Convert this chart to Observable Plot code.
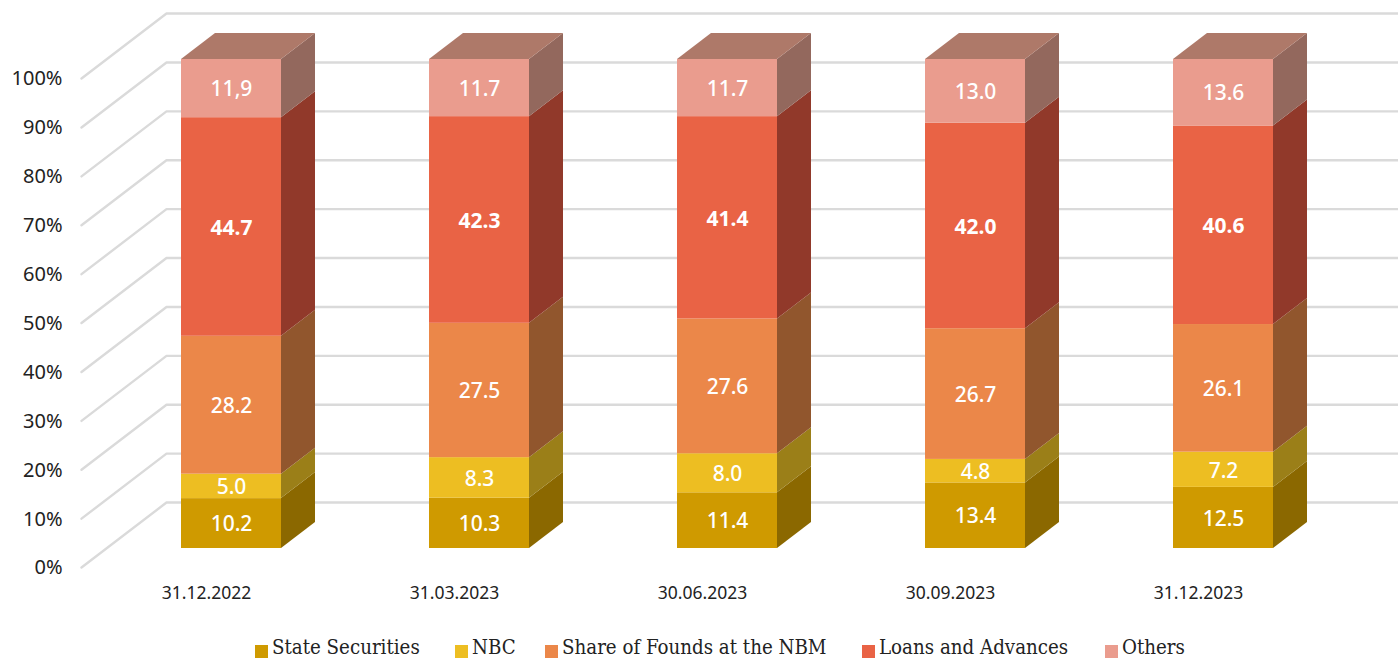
<!DOCTYPE html>
<html>
<head>
<meta charset="utf-8">
<script src="https://cdn.jsdelivr.net/npm/d3@7"></script>
<script src="https://cdn.jsdelivr.net/npm/@observablehq/plot@0.6"></script>
<style>
html,body{margin:0;padding:0;background:#fff;overflow:hidden}
#legend{position:relative;height:22px;font-family:"DejaVu Serif Condensed","DejaVu Serif",serif;font-stretch:condensed;font-size:20.3px;line-height:22px;color:#222;white-space:nowrap}
#legend .item{position:absolute;top:0;display:flex;align-items:flex-start}
#legend .sw{width:13px;height:13px;margin-top:9px;margin-right:4px}
</style>
</head>
<body>
<div id="chart"></div>
<div id="legend"></div>
<script>
const periods = ["31.12.2022","31.03.2023","30.06.2023","30.09.2023","31.12.2023"];
const seriesNames = ["State Securities","NBC","Share of Founds at the NBM","Loans and Advances","Others"];
const stateSecurities = [10.2,10.3,11.4,13.4,12.5];
const nbc = [5.0,8.3,8.0,4.8,7.2];
const shareOfFounds = [28.2,27.5,27.6,26.7,26.1];
const loansAdvances = [44.7,42.3,41.4,42.0,40.6];
const others = [11.9,11.7,11.7,13.0,13.6];
const othersLabels = ["11,9","11.7","11.7","13.0","13.6"];
const frontColors = ["#CF9A00","#EDBE22","#EB8749","#E96345","#EA9C8E"];
const sideColors = ["#8B6800","#9B7F18","#91562D","#91392A","#93685D"];
const topColor = "#AE7969";
const tickValues = [0,10,20,30,40,50,60,70,80,90,100];

const W = 1398, H = 636;
const pxPerSlot = 248, pxPerPct = 4.89, originX = 181, originY = 548;
const BAR = 100/pxPerSlot, DX = 34/pxPerSlot, DY = 26/pxPerPct;

const all = [stateSecurities,nbc,shareOfFounds,loansAdvances,others];
const segs = [];
periods.forEach((p,i)=>{
  const total = d3.sum(all,a=>a[i]);
  let acc = 0;
  all.forEach((a,k)=>{
    const y1 = acc, y2 = acc + a[i]/total*100;
    acc = y2;
    segs.push({i,k,y1,y2,mid:(y1+y2)/2,
      label: k===4 ? othersLabels[i] : a[i].toFixed(1)});
  });
});
const sidePts = segs.flatMap(s=>[
  {z:s.i*10+s.k,x:s.i+BAR,y1:s.y1,y2:s.y2,c:sideColors[s.k]},
  {z:s.i*10+s.k,x:s.i+BAR+DX,y1:s.y1+DY,y2:s.y2+DY,c:sideColors[s.k]}
]);
const topPts = periods.flatMap((p,i)=>[
  {z:i,y:100,x1:i,x2:i+BAR},
  {z:i,y:100+DY,x1:i+DX,x2:i+BAR+DX}
]);
const gridPts = tickValues.flatMap(t=>[
  {t,x:-100/pxPerSlot,y:t-3.9},
  {t,x:-15/pxPerSlot,y:t+9.4},
  {t,x:(W-originX)/pxPerSlot,y:t+9.4}
]);

const chart = Plot.plot({
  width:W,height:H,
  marginLeft:62,marginRight:0,marginTop:0,marginBottom:50,
  style:{background:"#fff",fontFamily:"'Noto Sans',sans-serif"},
  x:{domain:[-originX/pxPerSlot,(W-originX)/pxPerSlot],range:[0,W],axis:null},
  y:{domain:[(originY-H)/pxPerPct,originY/pxPerPct],range:[H,0],axis:null},
  color:{type:"identity"},
  marks:[
    Plot.line(gridPts,{x:"x",y:"y",z:"t",stroke:"#DADADA",strokeWidth:2.4}),
    Plot.areaY(sidePts,{x:"x",y1:"y1",y2:"y2",z:"z",fill:"c"}),
    Plot.areaX(topPts,{y:"y",x1:"x1",x2:"x2",z:"z",fill:topColor}),
    Plot.rect(segs,{x1:d=>d.i,x2:d=>d.i+BAR,y1:"y1",y2:"y2",fill:d=>frontColors[d.k]}),
    Plot.text(segs.filter(d=>d.k!==3),{x:d=>d.i+BAR/2,y:"mid",text:"label",fill:"#fff",fontSize:21,fontWeight:500,dy:1}),
    Plot.text(segs.filter(d=>d.k===3),{x:d=>d.i+BAR/2,y:"mid",text:"label",fill:"#fff",fontSize:21,fontWeight:700,dy:1}),
    Plot.axisY({anchor:"left",ticks:tickValues,tickSize:0,tickPadding:0,dy:19.5,
      tickFormat:d=>d+"%",fontSize:20,color:"#222",label:null}),
    Plot.axisX({anchor:"bottom",ticks:periods.map((p,i)=>i+BAR/2),tickSize:0,tickPadding:0,dx:-25,
      tickFormat:(d,i)=>periods[i],fontSize:17.5,color:"#222",label:null})
  ]
});
document.getElementById("chart").appendChild(chart);
chart.style.display="block";

const legendX = [255,455,545,862,1105];
d3.select("#legend").selectAll(".item").data(seriesNames).join("div")
  .attr("class","item").style("left",(d,i)=>legendX[i]+"px")
  .html((d,i)=>`<span class="sw" style="background:${frontColors[i]}"></span><span>${d}</span>`);
</script>
</body>
</html>
